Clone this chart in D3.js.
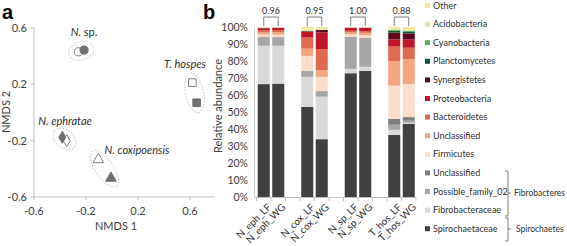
<!DOCTYPE html>
<html>
<head>
<meta charset="utf-8">
<script src="https://cdn.jsdelivr.net/npm/d3@7"></script>
<style>
  body { margin: 0; background: #fff; }
  svg { font-family: Lato, "Open Sans", sans-serif; }
  .tick text { fill: #404040; }
</style>
</head>
<body>
<div id="chart"></div>
<script>
// ---- panel a: NMDS points ----
const groups = ["N. ephratae", "N. coxipoensis", "N. sp.", "T. hospes"];
const shapes = ["diamond", "triangle", "circle", "square"];
const lfX = [-0.348, -0.105, -0.259, 0.618];   // open symbols (LF)
const lfY = [-0.200, -0.334, 0.431, 0.212];
const wgX = [-0.382, -0.008, -0.215, 0.651];   // filled symbols (WG)
const wgY = [-0.176, -0.466, 0.443, 0.069];
const nmdsTicks = [-0.6, -0.2, 0.2, 0.6];

// ---- panel b: relative abundance ----
const samples = ["N_eph_LF", "N_eph_WG", "N_cox_LF", "N_cox_WG", "N_sp_LF", "N_sp_WG", "T_hos_LF", "T_hos_WG"];
const slots = ["N_eph_LF", "N_eph_WG", "gap1", "N_cox_LF", "N_cox_WG", "gap2", "N_sp_LF", "N_sp_WG", "gap3", "T_hos_LF", "T_hos_WG"];
const taxa = ["Spirochaetaceae", "Fibrobacteraceae", "Possible_family_02", "Unclassified (Fib)", "Firmicutes", "Unclassified",
              "Bacteroidetes", "Proteobacteria", "Synergistetes", "Planctomycetes", "Cyanobacteria", "Acidobacteria", "Other"];
const taxaColors = ["#404040", "#d9d9d9", "#a6a6a6", "#7f7f7f", "#fcdcca", "#f4a582", "#df6a4f", "#c0172b", "#5a0a1c", "#0f5a34", "#5fae5c", "#d6e9a4", "#f8e59a"];
const values = [
  [66.4, 22.6, 4.5, 0.5, 1.5, 1.5, 1.0, 1.2, 0.3, 0.0, 0.0, 0.1, 0.4],  // N_eph_LF
  [66.7, 22.3, 4.6, 0.4, 1.5, 1.5, 1.2, 1.2, 0.2, 0.0, 0.0, 0.1, 0.3],  // N_eph_WG
  [53.0, 17.7, 3.3, 0.3, 8.7, 4.3, 6.5, 3.4, 0.3, 0.1, 0.1, 0.6, 1.7],  // N_cox_LF
  [34.0, 25.0, 3.0, 0.3, 8.4, 3.8, 12.5, 9.8, 1.4, 0.1, 0.1, 0.5, 1.1], // N_cox_WG
  [72.8, 2.6, 18.4, 0.4, 1.5, 1.3, 0.8, 1.6, 0.2, 0.0, 0.0, 0.1, 0.3],  // N_sp_LF
  [74.2, 2.4, 16.6, 0.4, 1.6, 1.4, 1.0, 1.8, 0.2, 0.0, 0.0, 0.1, 0.3],  // N_sp_WG
  [36.5, 3.0, 3.0, 3.5, 19.5, 14.5, 8.5, 4.2, 4.0, 1.2, 0.4, 0.6, 1.1], // T_hos_LF
  [43.0, 0.7, 1.2, 2.1, 19.5, 14.5, 6.8, 5.0, 3.4, 1.2, 0.4, 0.7, 1.5]  // T_hos_WG
];
const pairValues = ["0.96", "0.95", "1.00", "0.88"];
const pctTicks = d3.range(0, 101, 10);
const legendLabels = ["Other", "Acidobacteria", "Cyanobacteria", "Planctomycetes", "Synergistetes", "Proteobacteria",
                      "Bacteroidetes", "Unclassified", "Firmicutes", "Unclassified", "Possible_family_02", "Fibrobacteraceae", "Spirochaetaceae"];

const W = 567, H = 246;
const svg = d3.select("#chart").append("svg").attr("width", W).attr("height", H);

// ===== panel a =====
const ax = d3.scaleLinear().domain([-0.6, 0.6]).range([34, 190]);
const ay = d3.scaleLinear().domain([-0.6, 0.6]).range([197, 28]);

svg.append("text").attr("x", 2).attr("y", 19).text("a")
  .style("font-family", "Arial, sans-serif").style("font-weight", "bold").style("font-size", "20px");

const axisColor = "#bfbfbf";
const gA = svg.append("g");
gA.append("line").attr("x1", ax(-0.6)).attr("x2", 215).attr("y1", ay(-0.6)).attr("y2", ay(-0.6)).attr("stroke", axisColor);
gA.append("line").attr("x1", ax(-0.6)).attr("x2", ax(-0.6)).attr("y1", ay(-0.6)).attr("y2", ay(0.6)).attr("stroke", axisColor);

nmdsTicks.forEach(t => {
  gA.append("line").attr("x1", ax(t)).attr("x2", ax(t)).attr("y1", ay(-0.6)).attr("y2", ay(-0.6) + 3).attr("stroke", axisColor);
  gA.append("line").attr("x1", ax(-0.6) - 3).attr("x2", ax(-0.6)).attr("y1", ay(t)).attr("y2", ay(t)).attr("stroke", axisColor);
  gA.append("text").attr("x", ax(t)).attr("y", ay(-0.6) + 18).attr("text-anchor", "middle")
    .attr("fill", "#404040").style("font-size", "11px").text(t.toFixed(1));
  gA.append("text").attr("x", ax(-0.6) - 7).attr("y", ay(t) + 4).attr("text-anchor", "end")
    .attr("fill", "#404040").style("font-size", "11px").text(t.toFixed(1));
});
gA.append("text").attr("x", 116).attr("y", 230).attr("text-anchor", "middle")
  .attr("fill", "#404040").style("font-size", "11px").text("NMDS 1");
gA.append("text").attr("transform", "translate(10,112) rotate(-90)").attr("text-anchor", "middle")
  .attr("fill", "#404040").style("font-size", "11px").text("NMDS 2");

// dotted ellipses around each species pair
groups.forEach((g, i) => {
  const x1 = ax(lfX[i]), y1 = ay(lfY[i]), x2 = ax(wgX[i]), y2 = ay(wgY[i]);
  const cx = (x1 + x2) / 2, cy = (y1 + y2) / 2;
  const len = Math.hypot(x2 - x1, y2 - y1);
  const ang = Math.atan2(y2 - y1, x2 - x1) * 180 / Math.PI;
  gA.append("ellipse").attr("cx", cx).attr("cy", cy)
    .attr("rx", len / 2 + 10).attr("ry", 9)
    .attr("transform", `rotate(${ang},${cx},${cy})`)
    .attr("fill", "none").attr("stroke", "#c8c8c8").attr("stroke-width", 1).attr("stroke-dasharray", "1.5,1.5");
});

const symTypes = { diamond: d3.symbolDiamond, triangle: d3.symbolTriangle, circle: d3.symbolCircle, square: d3.symbolSquare };
const symSize = { diamond: 42, triangle: 50, circle: 52, square: 58 };
groups.forEach((g, i) => {
  const sym = d3.symbol().type(symTypes[shapes[i]]).size(symSize[shapes[i]]);
  gA.append("path").attr("d", sym).attr("transform", `translate(${ax(lfX[i])},${ay(lfY[i])})`)
    .attr("fill", "#fff").attr("stroke", "#7f7f7f").attr("stroke-width", 1);
  gA.append("path").attr("d", sym).attr("transform", `translate(${ax(wgX[i])},${ay(wgY[i])})`)
    .attr("fill", "#707070").attr("stroke", "#707070").attr("stroke-width", 1);
});

// species labels
const labelPos = [[65, 125], [137, 154], [84, 36], [185, 68]];
groups.forEach((g, i) => {
  const t = gA.append("text").attr("x", labelPos[i][0]).attr("y", labelPos[i][1]).attr("text-anchor", "middle")
    .attr("fill", "#303030").style("font-size", "11px").style("font-style", "italic");
  const parts = g.split(" ");
  t.append("tspan").text(parts[0]);
  t.append("tspan").style("font-style", parts[1] === "sp." ? "normal" : "italic").text(" " + parts[1]);
});

// ===== panel b =====
svg.append("text").attr("x", 203).attr("y", 19).text("b")
  .style("font-family", "Arial, sans-serif").style("font-weight", "bold").style("font-size", "20px");

const bx = d3.scaleBand().domain(slots).range([256.5, 416]).paddingInner(0.17).paddingOuter(0.085);
const by = d3.scaleLinear().domain([0, 100]).range([197, 27]);
const gB = svg.append("g");

gB.append("g").attr("transform", "translate(254,0)")
  .call(d3.axisLeft(by).tickValues(pctTicks).tickFormat(d => d + "%").tickSize(0).tickPadding(6))
  .call(g => g.select(".domain").attr("stroke", "#d0d0d0"))
  .call(g => g.selectAll(".tick text").style("font-size", "10.5px").style("font-family", "Lato, sans-serif"));

gB.append("text").attr("transform", "translate(222,106) rotate(-90)").attr("text-anchor", "middle")
  .attr("fill", "#404040").style("font-size", "11px").text("Relative abundance");

// stacked bars
const table = samples.map((s, i) => {
  const row = { sample: s };
  taxa.forEach((t, j) => row[t] = values[i][j]);
  return row;
});
const stacked = d3.stack().keys(taxa)(table);
gB.selectAll("g.layer").data(stacked).join("g").attr("class", "layer")
  .attr("fill", (d, i) => taxaColors[i])
  .selectAll("rect").data(d => d).join("rect")
  .attr("x", d => bx(d.data.sample))
  .attr("width", bx.bandwidth())
  .attr("y", d => by(d[1]))
  .attr("height", d => by(d[0]) - by(d[1]));

// category axis with ticks between slots
const step = bx.step();
gB.append("line").attr("x1", 254.5).attr("x2", 416).attr("y1", by(0) + 0.5).attr("y2", by(0) + 0.5).attr("stroke", "#bfbfbf");
d3.range(slots.length + 1).forEach(k => {
  const xx = bx(slots[0]) - (bx.paddingInner() * step) / 2 + k * step;
  gB.append("line").attr("x1", xx).attr("x2", xx).attr("y1", by(0)).attr("y2", by(0) + 4).attr("stroke", "#bfbfbf");
});
samples.forEach(s => {
  const cx = bx(s) + bx.bandwidth() / 2;
  gB.append("text").attr("transform", `translate(${cx + 3},${by(0) + 6}) rotate(-45)`)
    .attr("text-anchor", "end").attr("dy", "0.7em").attr("fill", "#303030")
    .style("font-size", "10px").text(s);
});

// similarity brackets
pairValues.forEach((v, i) => {
  const a = samples[2 * i], b = samples[2 * i + 1];
  const xa = bx(a) + bx.bandwidth() / 2, xb = bx(b) + bx.bandwidth() / 2;
  gB.append("path").attr("d", `M${xa},${by(100) - 1}V17H${xb}V${by(100) - 1}`)
    .attr("fill", "none").attr("stroke", "#606060").attr("stroke-width", 0.8);
  gB.append("text").attr("x", (xa + xb) / 2).attr("y", 14).attr("text-anchor", "middle")
    .attr("fill", "#303030").style("font-size", "9px").text(v);
});

// legend (top to bottom = top of stack to bottom)
const lg = svg.append("g");
legendLabels.forEach((lab, i) => {
  const yy = 5.5 + i * 18.6;
  lg.append("rect").attr("x", 425).attr("y", yy - 2.5).attr("width", 5).attr("height", 5)
    .attr("fill", taxaColors[taxa.length - 1 - i]);
  lg.append("text").attr("x", 433).attr("y", yy).attr("dy", "0.35em")
    .attr("fill", "#303030").style("font-size", "9px").text(lab);
});

// phylum braces
const brace = lg.append("g").attr("fill", "none").attr("stroke", "#606060").attr("stroke-width", 0.8);
brace.append("path").attr("d", "M505,171H508V216H505M508,193H511");
brace.append("path").attr("d", "M505,218H508V241H505M508,229H511");
lg.append("text").attr("x", 514).attr("y", 193).attr("dy", "0.35em").attr("fill", "#303030").style("font-size", "8.5px").text("Fibrobacteres");
lg.append("text").attr("x", 516).attr("y", 229).attr("dy", "0.35em").attr("fill", "#303030").style("font-size", "8.5px").text("Spirochaetes");
</script>
</body>
</html>
